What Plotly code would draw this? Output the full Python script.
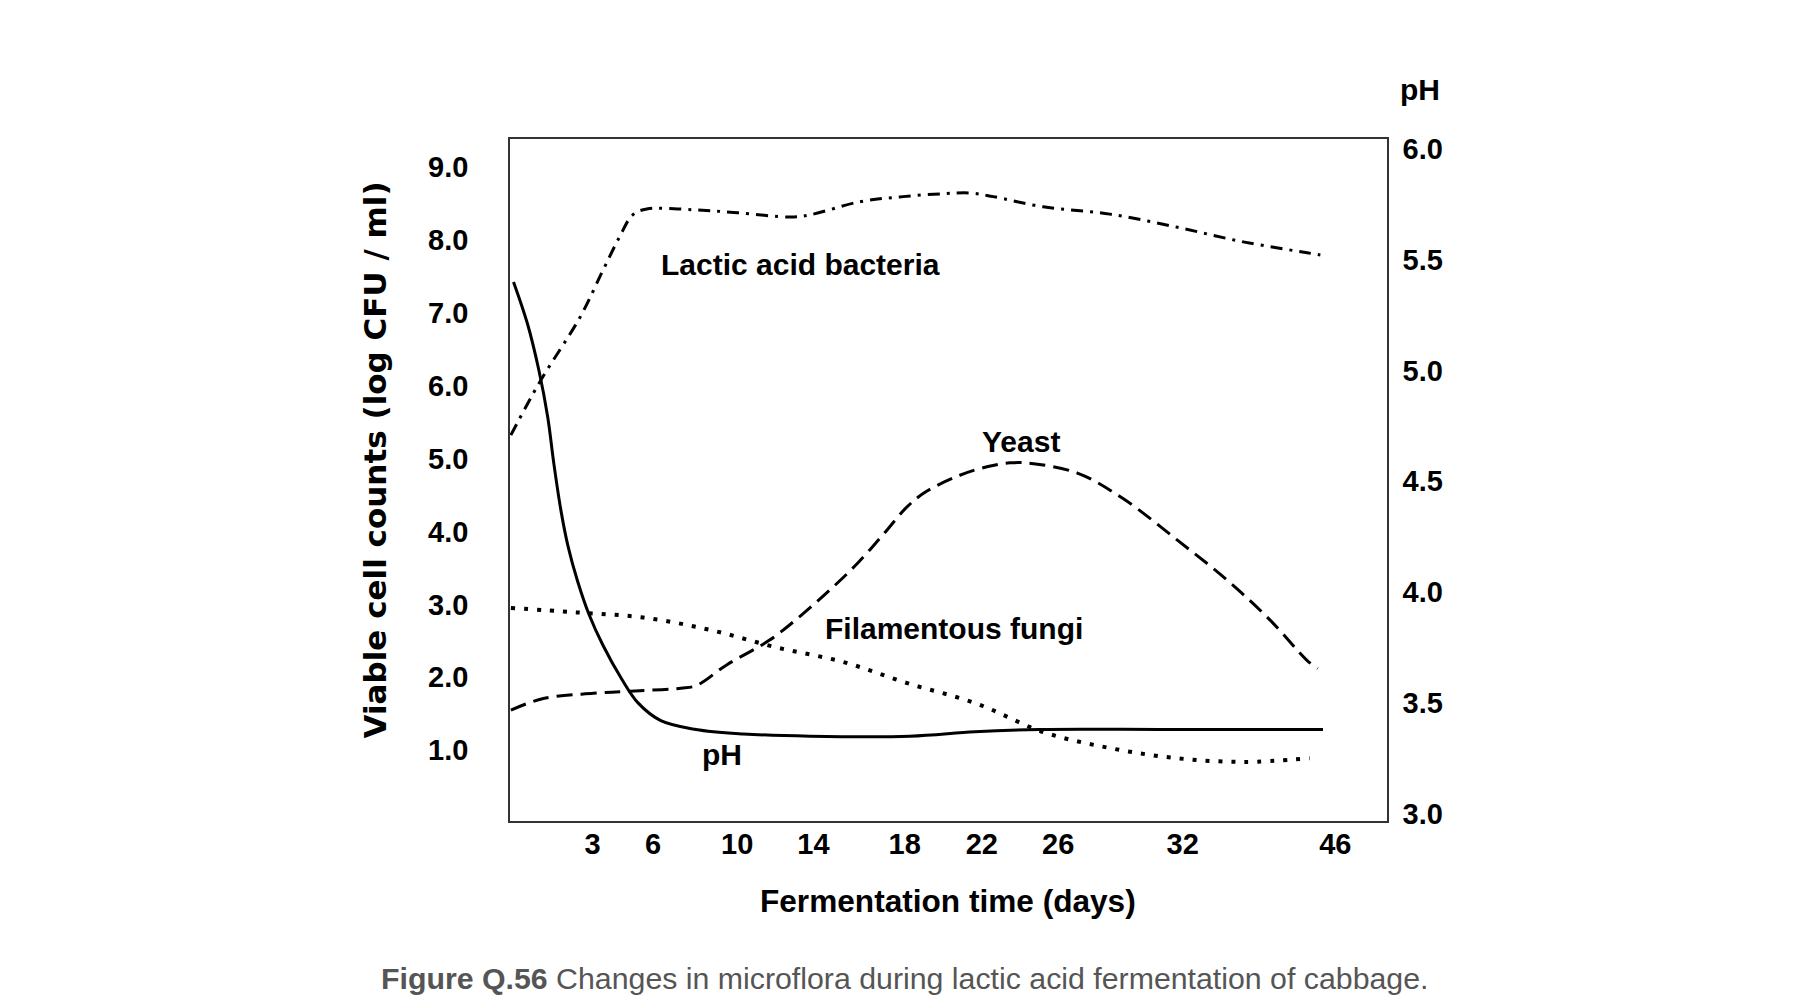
import plotly.graph_objects as go

# x is the position along the time axis (0-100 of the box width);
# the day labels in the original are not evenly spaced
tick_pos = [9.4, 16.3, 25.9, 34.6, 45.0, 53.8, 62.5, 76.7, 94.1]
tick_days = ["3", "6", "10", "14", "18", "22", "26", "32", "46"]

count_ticks = [1, 2, 3, 4, 5, 6, 7, 8, 9]
count_labels = ["1.0", "2.0", "3.0", "4.0", "5.0", "6.0", "7.0", "8.0", "9.0"]
ph_ticks = [3.0, 3.5, 4.0, 4.5, 5.0, 5.5, 6.0]
ph_labels = ["3.0", "3.5", "4.0", "4.5", "5.0", "5.5", "6.0"]

# lactic acid bacteria (log CFU/ml)
lab_x = [0.1, 3.4, 8.0, 10.6, 12.5, 14.0, 15.6, 20.9, 25.9, 31.9, 34.2, 39.9,
         44.8, 49.4, 52.5, 55.1, 60.8, 68.4, 76.1, 83.6, 90.9, 92.4]
lab_y = [5.32, 6.05, 6.94, 7.58, 8.04, 8.34, 8.42, 8.41, 8.37, 8.31, 8.34, 8.52,
         8.59, 8.63, 8.64, 8.59, 8.45, 8.35, 8.17, 7.97, 7.82, 7.79]

# yeast (log CFU/ml)
yeast_x = [0.1, 3.8, 9.5, 13.7, 19.5, 21.3, 24.7, 29.6, 33.1, 36.5, 39.6, 42.5,
           45.3, 47.5, 51.3, 54.5, 57.0, 58.9, 64.7, 69.9, 76.1, 81.8, 86.7, 90.9, 92.1]
yeast_y = [1.55, 1.71, 1.78, 1.81, 1.85, 1.89, 2.17, 2.51, 2.84, 3.20, 3.56, 3.95,
           4.34, 4.55, 4.77, 4.89, 4.94, 4.94, 4.80, 4.45, 3.88, 3.33, 2.78, 2.23, 2.12]

# filamentous fungi (log CFU/ml)
fungi_x = [0.1, 7.6, 15.2, 22.8, 30.4, 38.0, 45.3, 53.2, 60.8, 68.4, 76.1, 83.6, 91.2]
fungi_y = [2.95, 2.89, 2.82, 2.65, 2.41, 2.21, 1.92, 1.64, 1.25, 1.03, 0.89, 0.84, 0.89]

# pH (right axis)
ph_x = [0.4, 2.0, 3.3, 4.3, 5.0, 5.8, 6.6, 7.7, 9.0, 10.6, 12.7, 14.6, 17.2,
        21.2, 26.6, 34.2, 45.6, 53.0, 60.4, 75.0, 92.7]
ph_y = [5.40, 5.21, 5.00, 4.79, 4.58, 4.37, 4.21, 4.05, 3.90, 3.76, 3.61, 3.50, 3.42,
        3.38, 3.36, 3.35, 3.35, 3.37, 3.38, 3.38, 3.38]

tick_font = dict(family="Liberation Sans, Arial, sans-serif", size=29,
                 color="black", weight="bold")
label_font = dict(family="Liberation Sans, Arial, sans-serif", size=30, color="black")

fig = go.Figure()
fig.add_trace(go.Scatter(x=lab_x, y=lab_y, mode="lines",
                         line=dict(color="black", width=3, dash="12px,7px,3px,7px",
                                   shape="spline", smoothing=1.0)))
fig.add_trace(go.Scatter(x=yeast_x, y=yeast_y, mode="lines",
                         line=dict(color="black", width=3, dash="16px,8px",
                                   shape="spline", smoothing=1.0)))
fig.add_trace(go.Scatter(x=fungi_x, y=fungi_y, mode="lines",
                         line=dict(color="black", width=4, dash="4px,9px",
                                   shape="spline", smoothing=1.0)))
fig.add_trace(go.Scatter(x=ph_x, y=ph_y, mode="lines", yaxis="y2",
                         line=dict(color="black", width=3,
                                   shape="spline", smoothing=1.0)))

fig.update_layout(
    width=1819, height=997,
    margin=dict(l=510, r=432, t=139, b=176),
    paper_bgcolor="white", plot_bgcolor="white",
    showlegend=False,
    xaxis=dict(range=[0, 100], tickvals=tick_pos, ticktext=tick_days,
               showgrid=False, zeroline=False, showline=True, mirror=True,
               linecolor="#333333", linewidth=1.5, ticks="",
               ticklabelstandoff=-4, tickfont=tick_font),
    yaxis=dict(range=[0.03, 9.38], tickvals=count_ticks, ticktext=count_labels,
               showgrid=False, zeroline=False, showline=True,
               linecolor="#333333", linewidth=1.5, ticks="",
               ticklabelstandoff=34, tickfont=tick_font),
    yaxis2=dict(range=[2.967, 6.045], tickvals=ph_ticks, ticktext=ph_labels,
                overlaying="y", side="right",
                showgrid=False, zeroline=False, showline=True,
                linecolor="#333333", linewidth=1.5, ticks="",
                ticklabelstandoff=8, tickfont=tick_font),
)

annotations = [
    dict(text="<b>Lactic acid bacteria</b>", x=0.331, y=0.816),
    dict(text="<b>Yeast</b>", x=0.583, y=0.556),
    dict(text="<b>Filamentous fungi</b>", x=0.506, y=0.282),
    dict(text="<b>pH</b>", x=0.242, y=0.098),
    dict(text="<b>pH</b>", x=1.0376, y=1.073),
]
for a in annotations:
    fig.add_annotation(xref="paper", yref="paper", showarrow=False,
                       xanchor="center", yanchor="middle", font=label_font, **a)

fig.add_annotation(text="<b>Fermentation time (days)</b>",
                   xref="paper", yref="paper", x=0.4994, y=-0.118, showarrow=False,
                   xanchor="center", yanchor="middle",
                   font=dict(family="Liberation Sans, Arial, sans-serif", size=31.6, color="black"))

fig.add_annotation(text="<b>Viable cell counts (log CFU / ml)</b>", textangle=-90,
                   xref="paper", yref="paper", x=-0.154, y=0.530, showarrow=False,
                   xanchor="center", yanchor="middle",
                   font=dict(family="DejaVu Sans", size=31, color="black"))

fig.add_annotation(text="<b>Figure Q.56</b> Changes in microflora during lactic acid fermentation of cabbage.",
                   xref="paper", yref="paper", x=0.4495, y=-0.231, showarrow=False,
                   xanchor="center", yanchor="middle",
                   font=dict(family="Liberation Sans, Arial, sans-serif", size=30.3, color="#555555"))

# drop the page's default body margin so the figure fills the window exactly
fig.write_html("out.html", config={"displayModeBar": False},
               post_script="document.body.style.margin='0';")
